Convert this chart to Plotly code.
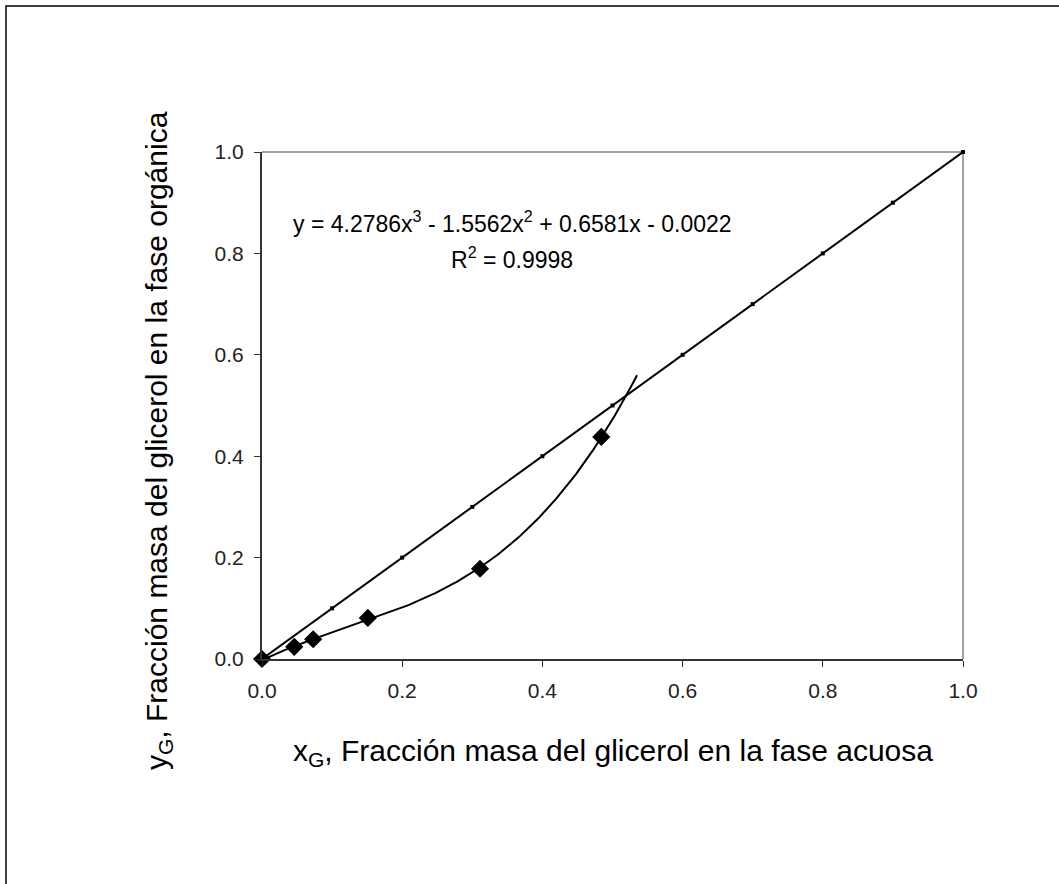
import numpy as np
import plotly.graph_objects as go

# Equilibrium data: glycerol mass fraction in aqueous (x) and organic (y) phases
x_eq = [0.0, 0.046, 0.073, 0.151, 0.311, 0.484]
y_eq = [0.0, 0.024, 0.039, 0.081, 0.178, 0.438]

# Reference diagonal y = x
x_diag = [0.0, 0.1, 0.2, 0.3, 0.4, 0.5, 0.6, 0.7, 0.8, 0.9, 1.0]
y_diag = [0.0, 0.1, 0.2, 0.3, 0.4, 0.5, 0.6, 0.7, 0.8, 0.9, 1.0]

# Cubic trendline coefficients (highest power first) and its extent
trend_coef = [4.2786, -1.5562, 0.6581, -0.0022]
trend_xmax = 0.535

tick_vals = [0.0, 0.2, 0.4, 0.6, 0.8, 1.0]
tick_text = ["0.0", "0.2", "0.4", "0.6", "0.8", "1.0"]

FONT = "Liberation Sans, Arial, sans-serif"

x_fit = np.linspace(0.0, trend_xmax, 200)
y_fit = np.polyval(trend_coef, x_fit)

fig = go.Figure()

fig.add_trace(go.Scatter(
    x=x_diag, y=y_diag, mode="lines+markers",
    line=dict(color="black", width=2),
    marker=dict(symbol="square", size=4, color="black"),
    cliponaxis=False, showlegend=False,
))
fig.add_trace(go.Scatter(
    x=x_fit, y=y_fit, mode="lines",
    line=dict(color="black", width=2),
    cliponaxis=False, showlegend=False,
))
fig.add_trace(go.Scatter(
    x=x_eq, y=y_eq, mode="markers",
    marker=dict(symbol="diamond", size=14, color="black"),
    cliponaxis=False, showlegend=False,
))

L, R, T, B = 262, 1059 - 963, 152, 884 - 659
W, H = 1059 - L - R, 884 - T - B


def px_x(p):
    return (p - L) / W


def px_y(p):
    return (884 - B - p) / H


axis_common = dict(
    range=[0, 1], tickvals=tick_vals, ticktext=tick_text,
    showgrid=False, zeroline=False, showline=True,
    linecolor="#333333", linewidth=2,
    ticks="outside", ticklen=6, tickwidth=1, tickcolor="#333333",
    tickfont=dict(family=FONT, size=21, color="#222222"),
)

fig.update_layout(
    width=1059, height=884,
    margin=dict(l=L, r=R, t=T, b=B),
    paper_bgcolor="white", plot_bgcolor="white",
    xaxis=dict(axis_common, ticklabelstandoff=6),
    yaxis=dict(axis_common, ticklabelstandoff=6),
    shapes=[
        # gray frame on top and right of plot area
        dict(type="line", xref="paper", yref="paper", x0=0, x1=1, y0=1, y1=1,
             line=dict(color="#a0a0a0", width=2), layer="below"),
        dict(type="line", xref="paper", yref="paper", x0=1, x1=1, y0=0, y1=1,
             line=dict(color="#a0a0a0", width=2), layer="below"),
        # outer chart border
        dict(type="rect", xref="paper", yref="paper",
             x0=px_x(6), x1=px_x(1100), y0=px_y(6), y1=px_y(930),
             line=dict(color="black", width=1.5)),
    ],
    annotations=[
        dict(xref="paper", yref="paper", x=px_x(613), y=px_y(752),
             text="x<sub>G</sub>, Fracción masa del glicerol en la fase acuosa",
             showarrow=False, font=dict(family=FONT, size=30, color="black"),
             xanchor="center", yanchor="middle"),
        dict(xref="paper", yref="paper", x=px_x(158), y=px_y(441),
             text="y<sub>G</sub>, Fracción masa del glicerol en la fase orgánica",
             textangle=-90, showarrow=False,
             font=dict(family=FONT, size=30, color="black"),
             xanchor="center", yanchor="middle"),
        dict(xref="paper", yref="paper", x=px_x(512), y=px_y(222),
             text="y = 4.2786x<sup>3</sup> - 1.5562x<sup>2</sup> + 0.6581x - 0.0022",
             showarrow=False, font=dict(family=FONT, size=23, color="black"),
             xanchor="center", yanchor="middle"),
        dict(xref="paper", yref="paper", x=px_x(512), y=px_y(258),
             text="R<sup>2</sup> = 0.9998",
             showarrow=False, font=dict(family=FONT, size=23, color="black"),
             xanchor="center", yanchor="middle"),
    ],
)

fig.write_html("out.html")
